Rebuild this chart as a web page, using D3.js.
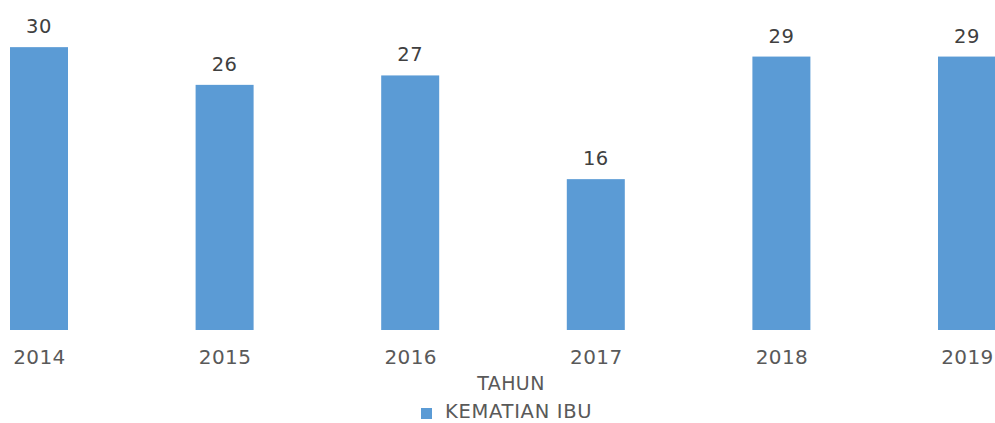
<!DOCTYPE html>
<html><head><meta charset="utf-8">
<script src="https://cdn.jsdelivr.net/npm/d3@7"></script>
<style>body{margin:0;background:#fff}svg{display:block}text{font-family:"DejaVu Sans",sans-serif}</style>
</head><body><svg id="c" width="995" height="423"></svg>
<script>
const years = ["2014","2015","2016","2017","2018","2019"];
const kematianIbu = [30,26,27,16,29,29];
const seriesName = "KEMATIAN IBU";
const axisTitle = "TAHUN";

const svg = d3.select("#c");
const x = d3.scalePoint().domain(years).range([39, 967]);
const y = d3.scaleLinear().domain([0,35]).range([330, 0]);
const bw = 58;

svg.selectAll("rect.bar").data(years).join("rect").attr("class","bar")
  .attr("x", d => x(d) - bw/2).attr("width", bw)
  .attr("y", (d,i) => y(kematianIbu[i])).attr("height", (d,i) => y(0) - y(kematianIbu[i]))
  .attr("fill", "#5b9bd5");

svg.selectAll("text.val").data(years).join("text").attr("class","val")
  .attr("x", d => x(d)).attr("y", (d,i) => y(kematianIbu[i]) - 14)
  .attr("text-anchor","middle").attr("font-size",19.5).attr("letter-spacing",0.5).attr("fill","#404040")
  .text((d,i) => kematianIbu[i]);

const ax = svg.append("g").attr("transform","translate(0,330)")
  .call(d3.axisBottom(x).tickSize(0).tickPadding(20));
ax.select(".domain").remove();
ax.selectAll("text").attr("font-size",20).attr("letter-spacing",0.4).attr("fill","#595959").attr("font-family","DejaVu Sans");

svg.append("text").attr("x",511).attr("y",390).attr("text-anchor","middle")
  .attr("font-size",19).attr("letter-spacing",0.4).attr("fill","#595959").text(axisTitle);
svg.append("rect").attr("x",421).attr("y",408).attr("width",11).attr("height",11).attr("fill","#5b9bd5");
svg.append("text").attr("x",445).attr("y",418).attr("font-size",19.5).attr("letter-spacing",0.7).attr("fill","#595959").text(seriesName);
</script></body></html>
